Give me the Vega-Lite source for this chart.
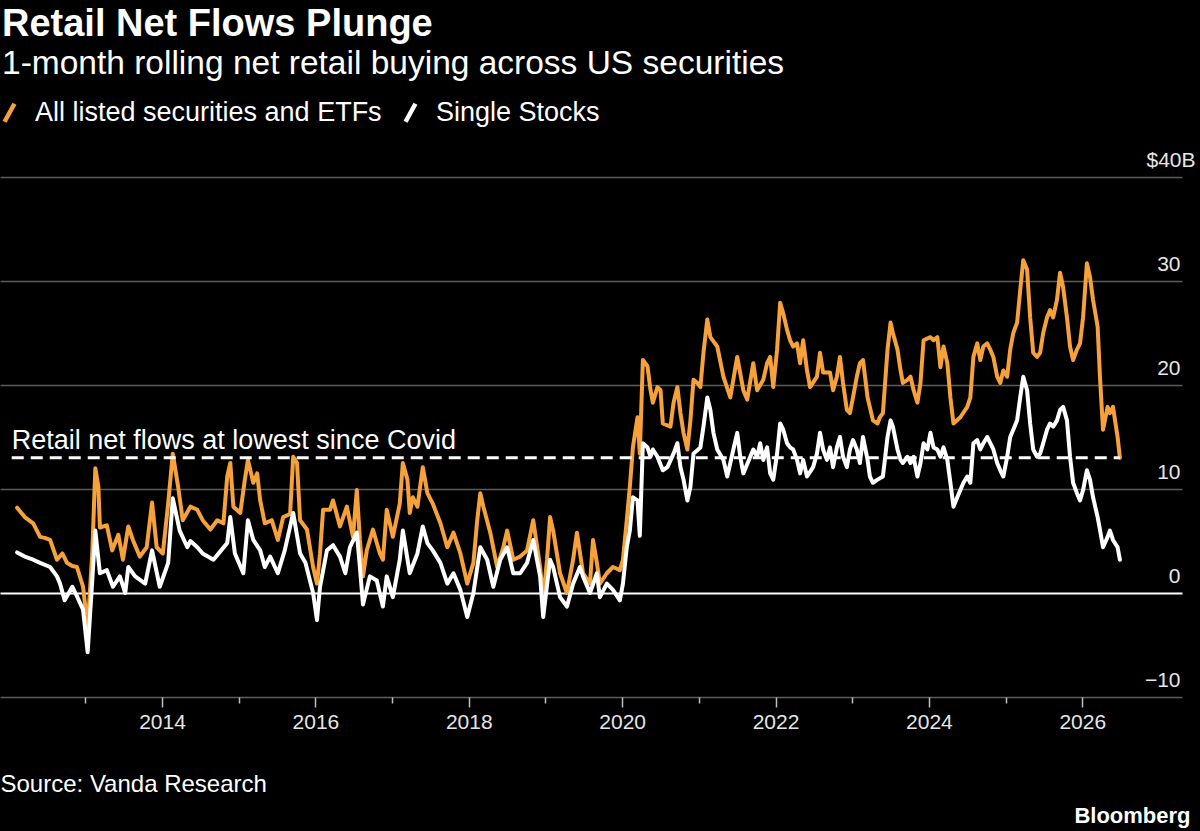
{
  "$schema": "https://vega.github.io/schema/vega-lite/v6.json",
  "width": 1182,
  "height": 520,
  "autosize": "none",
  "padding": {"left": 0, "top": 177, "right": 18, "bottom": 134},
  "background": "#000000",
  "config": {"view": {"stroke": null}, "font": "Liberation Sans"},
  "title": {
    "text": "Retail Net Flows Plunge",
    "subtitle": "1-month rolling net retail buying across US securities",
    "anchor": "start",
    "frame": "group",
    "orient": "top",
    "offset": 19,
    "dx": 2,
    "font": "Liberation Sans",
    "fontSize": 38,
    "fontWeight": "bold",
    "color": "#ffffff",
    "subtitleFont": "Liberation Sans",
    "subtitleFontSize": 33.5,
    "subtitleColor": "#ffffff",
    "subtitlePadding": 4
  },
  "datasets": {
    "all": [
      {"d":2012.11,"v":8.2},{"d":2012.21,"v":7.3},{"d":2012.32,"v":6.7},{"d":2012.41,"v":5.4},{"d":2012.47,"v":5.3},{"d":2012.54,"v":5.1},{"d":2012.63,"v":3.2},{"d":2012.70,"v":3.8},{"d":2012.76,"v":2.9},{"d":2012.83,"v":2.6},{"d":2012.89,"v":2.5},{"d":2012.97,"v":0.6},{"d":2013.03,"v":-3.4},{"d":2013.09,"v":3.8},{"d":2013.13,"v":12.0},{"d":2013.17,"v":10.2},{"d":2013.19,"v":6.3},{"d":2013.28,"v":6.5},{"d":2013.35,"v":4.1},{"d":2013.43,"v":5.6},{"d":2013.49,"v":3.2},{"d":2013.56,"v":6.4},{"d":2013.62,"v":5.1},{"d":2013.71,"v":3.5},{"d":2013.80,"v":4.4},{"d":2013.87,"v":8.7},{"d":2013.93,"v":4.4},{"d":2014.01,"v":3.8},{"d":2014.08,"v":8.6},{"d":2014.14,"v":13.4},{"d":2014.21,"v":10.2},{"d":2014.27,"v":7.0},{"d":2014.37,"v":8.3},{"d":2014.46,"v":8.0},{"d":2014.53,"v":7.0},{"d":2014.63,"v":6.1},{"d":2014.72,"v":7.0},{"d":2014.80,"v":6.7},{"d":2014.85,"v":11.2},{"d":2014.89,"v":12.5},{"d":2014.93,"v":8.3},{"d":2015.02,"v":7.7},{"d":2015.08,"v":10.9},{"d":2015.12,"v":12.8},{"d":2015.19,"v":10.6},{"d":2015.24,"v":11.5},{"d":2015.28,"v":8.9},{"d":2015.34,"v":6.7},{"d":2015.43,"v":7.0},{"d":2015.51,"v":5.1},{"d":2015.58,"v":7.3},{"d":2015.67,"v":7.6},{"d":2015.71,"v":13.1},{"d":2015.76,"v":12.5},{"d":2015.80,"v":7.0},{"d":2015.89,"v":6.1},{"d":2015.97,"v":2.5},{"d":2016.02,"v":0.9},{"d":2016.06,"v":3.8},{"d":2016.10,"v":8.0},{"d":2016.19,"v":8.0},{"d":2016.23,"v":8.9},{"d":2016.32,"v":6.4},{"d":2016.41,"v":8.3},{"d":2016.49,"v":5.4},{"d":2016.54,"v":9.9},{"d":2016.58,"v":5.1},{"d":2016.62,"v":1.6},{"d":2016.67,"v":4.1},{"d":2016.75,"v":6.1},{"d":2016.84,"v":3.8},{"d":2016.88,"v":3.2},{"d":2016.93,"v":8.0},{"d":2017.01,"v":5.4},{"d":2017.10,"v":8.6},{"d":2017.14,"v":12.5},{"d":2017.20,"v":10.9},{"d":2017.23,"v":7.7},{"d":2017.27,"v":9.2},{"d":2017.33,"v":8.3},{"d":2017.40,"v":12.1},{"d":2017.46,"v":9.6},{"d":2017.53,"v":8.6},{"d":2017.63,"v":6.7},{"d":2017.72,"v":4.4},{"d":2017.80,"v":5.8},{"d":2017.89,"v":3.8},{"d":2017.98,"v":0.9},{"d":2018.06,"v":2.9},{"d":2018.11,"v":7.0},{"d":2018.15,"v":9.6},{"d":2018.19,"v":8.3},{"d":2018.28,"v":5.8},{"d":2018.37,"v":2.5},{"d":2018.45,"v":4.4},{"d":2018.50,"v":6.0},{"d":2018.58,"v":3.2},{"d":2018.67,"v":3.5},{"d":2018.76,"v":4.1},{"d":2018.84,"v":7.0},{"d":2018.93,"v":2.5},{"d":2018.97,"v":-0.7},{"d":2019.02,"v":3.2},{"d":2019.06,"v":7.3},{"d":2019.10,"v":6.0},{"d":2019.19,"v":1.9},{"d":2019.28,"v":0.0},{"d":2019.36,"v":3.2},{"d":2019.41,"v":5.8},{"d":2019.49,"v":1.9},{"d":2019.58,"v":0.9},{"d":2019.62,"v":5.1},{"d":2019.67,"v":2.9},{"d":2019.71,"v":0.9},{"d":2019.80,"v":1.9},{"d":2019.88,"v":2.5},{"d":2019.97,"v":2.2},{"d":2020.01,"v":3.2},{"d":2020.06,"v":7.0},{"d":2020.10,"v":10.2},{"d":2020.14,"v":14.0},{"d":2020.20,"v":16.9},{"d":2020.23,"v":13.4},{"d":2020.27,"v":22.4},{"d":2020.33,"v":21.8},{"d":2020.37,"v":19.5},{"d":2020.40,"v":18.3},{"d":2020.46,"v":19.8},{"d":2020.50,"v":19.5},{"d":2020.53,"v":16.3},{"d":2020.63,"v":16.0},{"d":2020.67,"v":18.3},{"d":2020.72,"v":19.8},{"d":2020.76,"v":17.3},{"d":2020.80,"v":15.4},{"d":2020.85,"v":13.8},{"d":2020.89,"v":16.6},{"d":2020.93,"v":20.5},{"d":2020.98,"v":20.2},{"d":2021.02,"v":19.8},{"d":2021.06,"v":23.1},{"d":2021.11,"v":26.3},{"d":2021.15,"v":24.6},{"d":2021.24,"v":23.7},{"d":2021.32,"v":20.8},{"d":2021.41,"v":18.8},{"d":2021.50,"v":22.7},{"d":2021.58,"v":19.5},{"d":2021.63,"v":18.6},{"d":2021.71,"v":22.1},{"d":2021.76,"v":19.5},{"d":2021.84,"v":20.5},{"d":2021.89,"v":22.1},{"d":2021.93,"v":22.7},{"d":2021.97,"v":19.8},{"d":2022.02,"v":23.4},{"d":2022.06,"v":27.9},{"d":2022.10,"v":26.9},{"d":2022.15,"v":25.3},{"d":2022.19,"v":24.3},{"d":2022.23,"v":23.7},{"d":2022.28,"v":24.0},{"d":2022.32,"v":22.1},{"d":2022.36,"v":24.3},{"d":2022.41,"v":21.4},{"d":2022.45,"v":19.8},{"d":2022.54,"v":20.8},{"d":2022.58,"v":23.1},{"d":2022.62,"v":21.2},{"d":2022.71,"v":21.2},{"d":2022.75,"v":19.5},{"d":2022.80,"v":20.8},{"d":2022.84,"v":22.7},{"d":2022.88,"v":20.2},{"d":2022.93,"v":17.6},{"d":2022.97,"v":17.3},{"d":2023.01,"v":18.8},{"d":2023.06,"v":20.8},{"d":2023.10,"v":22.1},{"d":2023.14,"v":22.4},{"d":2023.20,"v":18.8},{"d":2023.27,"v":16.6},{"d":2023.33,"v":16.3},{"d":2023.36,"v":16.9},{"d":2023.40,"v":17.3},{"d":2023.46,"v":23.4},{"d":2023.50,"v":26.0},{"d":2023.53,"v":25.0},{"d":2023.59,"v":23.4},{"d":2023.63,"v":21.4},{"d":2023.66,"v":20.2},{"d":2023.72,"v":20.5},{"d":2023.76,"v":20.8},{"d":2023.80,"v":19.5},{"d":2023.85,"v":18.3},{"d":2023.89,"v":20.2},{"d":2023.93,"v":24.3},{"d":2024.02,"v":24.6},{"d":2024.06,"v":24.3},{"d":2024.11,"v":24.6},{"d":2024.15,"v":21.7},{"d":2024.19,"v":23.7},{"d":2024.24,"v":22.1},{"d":2024.28,"v":18.8},{"d":2024.32,"v":16.3},{"d":2024.41,"v":16.9},{"d":2024.50,"v":17.9},{"d":2024.54,"v":18.8},{"d":2024.58,"v":22.7},{"d":2024.63,"v":24.0},{"d":2024.67,"v":22.4},{"d":2024.71,"v":23.7},{"d":2024.76,"v":24.0},{"d":2024.80,"v":23.4},{"d":2024.84,"v":22.7},{"d":2024.89,"v":20.8},{"d":2024.93,"v":20.2},{"d":2024.97,"v":21.4},{"d":2025.02,"v":20.8},{"d":2025.06,"v":23.4},{"d":2025.10,"v":25.0},{"d":2025.15,"v":26.0},{"d":2025.19,"v":29.1},{"d":2025.23,"v":32.0},{"d":2025.28,"v":31.1},{"d":2025.32,"v":26.5},{"d":2025.36,"v":23.1},{"d":2025.41,"v":22.7},{"d":2025.45,"v":23.1},{"d":2025.49,"v":25.0},{"d":2025.54,"v":26.5},{"d":2025.58,"v":27.2},{"d":2025.62,"v":26.5},{"d":2025.67,"v":28.2},{"d":2025.71,"v":30.8},{"d":2025.75,"v":29.4},{"d":2025.80,"v":26.5},{"d":2025.84,"v":23.7},{"d":2025.88,"v":22.4},{"d":2025.93,"v":23.4},{"d":2025.97,"v":24.0},{"d":2026.01,"v":26.5},{"d":2026.06,"v":31.7},{"d":2026.10,"v":30.4},{"d":2026.14,"v":28.2},{"d":2026.20,"v":25.6},{"d":2026.23,"v":20.8},{"d":2026.27,"v":15.7},{"d":2026.33,"v":17.9},{"d":2026.36,"v":17.3},{"d":2026.40,"v":17.9},{"d":2026.46,"v":15.0},{"d":2026.49,"v":13.0}
    ],
    "single": [
      {"d":2012.11,"v":3.9},{"d":2012.21,"v":3.5},{"d":2012.32,"v":3.2},{"d":2012.41,"v":2.9},{"d":2012.54,"v":2.5},{"d":2012.63,"v":1.6},{"d":2012.67,"v":0.9},{"d":2012.73,"v":-0.7},{"d":2012.83,"v":0.6},{"d":2012.89,"v":-0.3},{"d":2012.97,"v":-1.6},{"d":2013.03,"v":-5.7},{"d":2013.09,"v":1.2},{"d":2013.13,"v":6.0},{"d":2013.19,"v":1.9},{"d":2013.28,"v":2.2},{"d":2013.36,"v":0.6},{"d":2013.45,"v":1.6},{"d":2013.52,"v":0.0},{"d":2013.56,"v":2.5},{"d":2013.65,"v":1.6},{"d":2013.78,"v":0.9},{"d":2013.87,"v":4.1},{"d":2013.97,"v":0.6},{"d":2014.08,"v":2.9},{"d":2014.14,"v":9.1},{"d":2014.23,"v":6.0},{"d":2014.33,"v":4.4},{"d":2014.37,"v":5.0},{"d":2014.46,"v":4.4},{"d":2014.53,"v":3.8},{"d":2014.67,"v":3.2},{"d":2014.76,"v":4.0},{"d":2014.85,"v":4.8},{"d":2014.89,"v":7.3},{"d":2014.95,"v":3.8},{"d":2015.06,"v":1.9},{"d":2015.12,"v":7.0},{"d":2015.19,"v":5.1},{"d":2015.28,"v":4.1},{"d":2015.34,"v":2.5},{"d":2015.41,"v":3.5},{"d":2015.51,"v":1.9},{"d":2015.60,"v":4.1},{"d":2015.71,"v":7.7},{"d":2015.80,"v":3.8},{"d":2015.87,"v":2.9},{"d":2015.97,"v":0.0},{"d":2016.02,"v":-2.6},{"d":2016.06,"v":0.6},{"d":2016.15,"v":4.1},{"d":2016.23,"v":4.6},{"d":2016.32,"v":3.5},{"d":2016.39,"v":1.9},{"d":2016.45,"v":4.4},{"d":2016.54,"v":5.8},{"d":2016.58,"v":2.5},{"d":2016.62,"v":-1.1},{"d":2016.71,"v":1.6},{"d":2016.80,"v":1.2},{"d":2016.88,"v":-1.3},{"d":2016.93,"v":1.6},{"d":2017.01,"v":-0.4},{"d":2017.10,"v":3.2},{"d":2017.14,"v":6.0},{"d":2017.23,"v":1.9},{"d":2017.33,"v":3.8},{"d":2017.40,"v":6.4},{"d":2017.46,"v":4.8},{"d":2017.53,"v":4.1},{"d":2017.63,"v":2.9},{"d":2017.72,"v":0.9},{"d":2017.80,"v":1.9},{"d":2017.89,"v":0.3},{"d":2017.98,"v":-2.3},{"d":2018.06,"v":0.0},{"d":2018.15,"v":4.4},{"d":2018.24,"v":3.2},{"d":2018.32,"v":0.6},{"d":2018.41,"v":3.2},{"d":2018.50,"v":4.4},{"d":2018.58,"v":1.9},{"d":2018.67,"v":1.9},{"d":2018.76,"v":2.9},{"d":2018.84,"v":5.1},{"d":2018.93,"v":1.6},{"d":2018.97,"v":-2.3},{"d":2019.06,"v":3.2},{"d":2019.10,"v":2.5},{"d":2019.19,"v":-0.4},{"d":2019.28,"v":-1.3},{"d":2019.36,"v":0.9},{"d":2019.45,"v":2.5},{"d":2019.49,"v":1.6},{"d":2019.58,"v":0.0},{"d":2019.67,"v":1.9},{"d":2019.71,"v":-0.4},{"d":2019.80,"v":0.9},{"d":2019.88,"v":0.3},{"d":2019.97,"v":-0.7},{"d":2020.01,"v":0.9},{"d":2020.06,"v":4.4},{"d":2020.10,"v":6.0},{"d":2020.14,"v":9.2},{"d":2020.20,"v":8.9},{"d":2020.23,"v":5.5},{"d":2020.27,"v":14.4},{"d":2020.33,"v":14.0},{"d":2020.37,"v":13.1},{"d":2020.40,"v":13.8},{"d":2020.46,"v":13.1},{"d":2020.53,"v":11.8},{"d":2020.59,"v":12.1},{"d":2020.67,"v":13.4},{"d":2020.72,"v":14.4},{"d":2020.76,"v":12.1},{"d":2020.80,"v":10.9},{"d":2020.85,"v":8.9},{"d":2020.89,"v":10.2},{"d":2020.93,"v":13.4},{"d":2021.02,"v":14.0},{"d":2021.06,"v":16.0},{"d":2021.11,"v":18.8},{"d":2021.15,"v":17.6},{"d":2021.19,"v":15.4},{"d":2021.24,"v":13.8},{"d":2021.32,"v":12.8},{"d":2021.37,"v":11.2},{"d":2021.45,"v":13.8},{"d":2021.50,"v":15.4},{"d":2021.54,"v":13.1},{"d":2021.58,"v":11.5},{"d":2021.67,"v":13.1},{"d":2021.71,"v":13.8},{"d":2021.76,"v":13.1},{"d":2021.80,"v":14.4},{"d":2021.84,"v":12.8},{"d":2021.89,"v":14.0},{"d":2021.93,"v":11.5},{"d":2021.97,"v":10.9},{"d":2022.02,"v":13.4},{"d":2022.06,"v":16.3},{"d":2022.10,"v":15.7},{"d":2022.15,"v":14.4},{"d":2022.19,"v":14.0},{"d":2022.23,"v":13.8},{"d":2022.28,"v":12.8},{"d":2022.32,"v":11.5},{"d":2022.36,"v":12.8},{"d":2022.41,"v":11.2},{"d":2022.49,"v":12.1},{"d":2022.54,"v":13.4},{"d":2022.58,"v":15.4},{"d":2022.62,"v":13.8},{"d":2022.67,"v":12.8},{"d":2022.71,"v":14.0},{"d":2022.75,"v":12.1},{"d":2022.80,"v":14.0},{"d":2022.84,"v":15.0},{"d":2022.88,"v":13.1},{"d":2022.93,"v":12.1},{"d":2022.97,"v":13.8},{"d":2023.01,"v":14.7},{"d":2023.06,"v":13.8},{"d":2023.10,"v":12.5},{"d":2023.14,"v":15.0},{"d":2023.20,"v":12.8},{"d":2023.23,"v":11.2},{"d":2023.27,"v":10.6},{"d":2023.33,"v":10.9},{"d":2023.40,"v":11.2},{"d":2023.46,"v":15.0},{"d":2023.50,"v":16.6},{"d":2023.53,"v":16.0},{"d":2023.59,"v":13.8},{"d":2023.63,"v":12.8},{"d":2023.66,"v":12.5},{"d":2023.72,"v":13.1},{"d":2023.76,"v":12.5},{"d":2023.80,"v":13.1},{"d":2023.85,"v":11.2},{"d":2023.89,"v":12.5},{"d":2023.93,"v":14.4},{"d":2023.98,"v":13.8},{"d":2024.02,"v":15.4},{"d":2024.06,"v":14.0},{"d":2024.11,"v":13.8},{"d":2024.15,"v":13.1},{"d":2024.19,"v":14.0},{"d":2024.24,"v":12.8},{"d":2024.28,"v":10.6},{"d":2024.32,"v":8.3},{"d":2024.37,"v":9.2},{"d":2024.41,"v":9.9},{"d":2024.45,"v":10.6},{"d":2024.50,"v":11.2},{"d":2024.54,"v":10.6},{"d":2024.58,"v":14.4},{"d":2024.63,"v":14.7},{"d":2024.67,"v":13.8},{"d":2024.71,"v":14.4},{"d":2024.76,"v":15.0},{"d":2024.80,"v":14.4},{"d":2024.84,"v":13.8},{"d":2024.89,"v":12.5},{"d":2024.93,"v":11.8},{"d":2024.97,"v":11.2},{"d":2025.02,"v":13.1},{"d":2025.06,"v":15.0},{"d":2025.10,"v":15.7},{"d":2025.15,"v":16.6},{"d":2025.19,"v":18.8},{"d":2025.23,"v":20.8},{"d":2025.28,"v":19.5},{"d":2025.32,"v":16.3},{"d":2025.36,"v":13.8},{"d":2025.41,"v":13.1},{"d":2025.45,"v":13.4},{"d":2025.49,"v":14.4},{"d":2025.54,"v":15.7},{"d":2025.58,"v":16.3},{"d":2025.62,"v":16.0},{"d":2025.67,"v":16.6},{"d":2025.71,"v":17.6},{"d":2025.75,"v":17.9},{"d":2025.80,"v":16.6},{"d":2025.84,"v":13.1},{"d":2025.88,"v":10.6},{"d":2025.93,"v":9.6},{"d":2025.97,"v":8.9},{"d":2026.01,"v":9.9},{"d":2026.06,"v":11.8},{"d":2026.10,"v":10.9},{"d":2026.14,"v":9.2},{"d":2026.20,"v":7.3},{"d":2026.23,"v":6.1},{"d":2026.27,"v":4.4},{"d":2026.33,"v":5.4},{"d":2026.36,"v":6.0},{"d":2026.40,"v":5.1},{"d":2026.46,"v":4.4},{"d":2026.49,"v":3.2}
    ],
    "ref": [
      {"d1": 2012.04, "d2": 2026.49, "v": 13, "label": "Retail net flows at lowest since Covid"}
    ]
  },
  "layer": [
    {
      "data": {"name": "all"},
      "mark": {"type": "line", "strokeWidth": 4, "strokeJoin": "round", "strokeCap": "round"},
      "encoding": {
        "x": {
          "field": "d",
          "type": "quantitative",
          "scale": {"domain": [2011.887, 2027.3], "nice": false, "zero": false},
          "axis": {
            "orient": "bottom",
            "values": [2013, 2014, 2015, 2016, 2017, 2018, 2019, 2020, 2021, 2022, 2023, 2024, 2025, 2026],
            "labelExpr": "datum.value % 2 === 0 ? format(datum.value, 'd') : ''",
            "grid": false,
            "domain": false,
            "ticks": true,
            "tickColor": "#bfbfbf",
            "tickWidth": 1.5,
            "tickSize": {"condition": {"test": "datum.value % 2 === 0", "value": 10}, "value": 6},
            "labelColor": "#e6e6e6",
            "labelFont": "Liberation Sans",
            "labelFontSize": 21,
            "labelPadding": 4,
            "labelFlush": false,
            "labelOverlap": false,
            "title": "Source: Vanda Research",
            "titleAnchor": "start",
            "titleAlign": "left",
            "titleBaseline": "alphabetic",
            "titleX": 0,
            "titleY": 94,
            "titleFont": "Liberation Sans",
            "titleFontSize": 24,
            "titleFontWeight": "normal",
            "titleColor": "#ffffff"
          }
        },
        "y": {
          "field": "v",
          "type": "quantitative",
          "scale": {"domain": [-10, 40], "nice": false, "zero": false},
          "axis": {
            "orient": "right",
            "values": [-10, 0, 10, 20, 30, 40],
            "labelExpr": "datum.value === 40 ? '$40B' : datum.label",
            "grid": true,
            "gridColor": {"condition": {"test": "datum.value === 0", "value": "#ffffff"}, "value": "#5c5c5c"},
            "gridWidth": {"condition": {"test": "datum.value === 0", "value": 2}, "value": 1.5},
            "domain": false,
            "ticks": false,
            "labelAlign": "right",
            "labelBaseline": "alphabetic",
            "labelOffset": -11,
            "labelPadding": {"condition": {"test": "datum.value === 40", "value": 13}, "value": -2},
            "labelColor": "#e6e6e6",
            "labelFont": "Liberation Sans",
            "labelFontSize": 21,
            "labelFlush": false,
            "labelOverlap": false,
            "title": "Bloomberg",
            "titleAngle": 0,
            "titleAlign": "right",
            "titleBaseline": "alphabetic",
            "titleX": 8,
            "titleY": 645,
            "titleFont": "Liberation Sans",
            "titleFontSize": 22,
            "titleFontWeight": "bold",
            "titleColor": "#ffffff"
          }
        },
        "color": {
          "datum": "All listed securities and ETFs",
          "type": "nominal",
          "scale": {"domain": ["All listed securities and ETFs", "Single Stocks"], "range": ["#f6a13a", "#ffffff"]},
          "legend": {
            "orient": "none",
            "legendX": -4,
            "legendY": -78,
            "direction": "horizontal",
            "title": null,
            "symbolType": "M-0.55,1L0.55,-1",
            "symbolSize": 324,
            "symbolStrokeWidth": 4.5,
            "symbolFillColor": "transparent",
            "labelColor": "#ffffff",
            "labelFont": "Liberation Sans",
            "labelFontSize": 27,
            "labelOffset": 12,
            "columnPadding": 14,
            "labelLimit": 600
          }
        }
      }
    },
    {
      "data": {"name": "single"},
      "mark": {"type": "line", "strokeWidth": 4, "strokeJoin": "round", "strokeCap": "round"},
      "encoding": {
        "x": {"field": "d", "type": "quantitative"},
        "y": {"field": "v", "type": "quantitative"},
        "color": {"datum": "Single Stocks", "type": "nominal"}
      }
    },
    {
      "data": {"name": "ref"},
      "mark": {"type": "rule", "strokeDash": [12, 7], "strokeWidth": 3, "color": "#ffffff"},
      "encoding": {
        "x": {"field": "d1", "type": "quantitative"},
        "x2": {"field": "d2"},
        "y": {"field": "v", "type": "quantitative"}
      }
    },
    {
      "data": {"name": "ref"},
      "mark": {"type": "text", "align": "left", "baseline": "alphabetic", "dy": -9, "fontSize": 27, "font": "Liberation Sans", "color": "#ffffff"},
      "encoding": {
        "x": {"field": "d1", "type": "quantitative"},
        "y": {"field": "v", "type": "quantitative"},
        "text": {"field": "label"}
      }
    }
  ]
}
